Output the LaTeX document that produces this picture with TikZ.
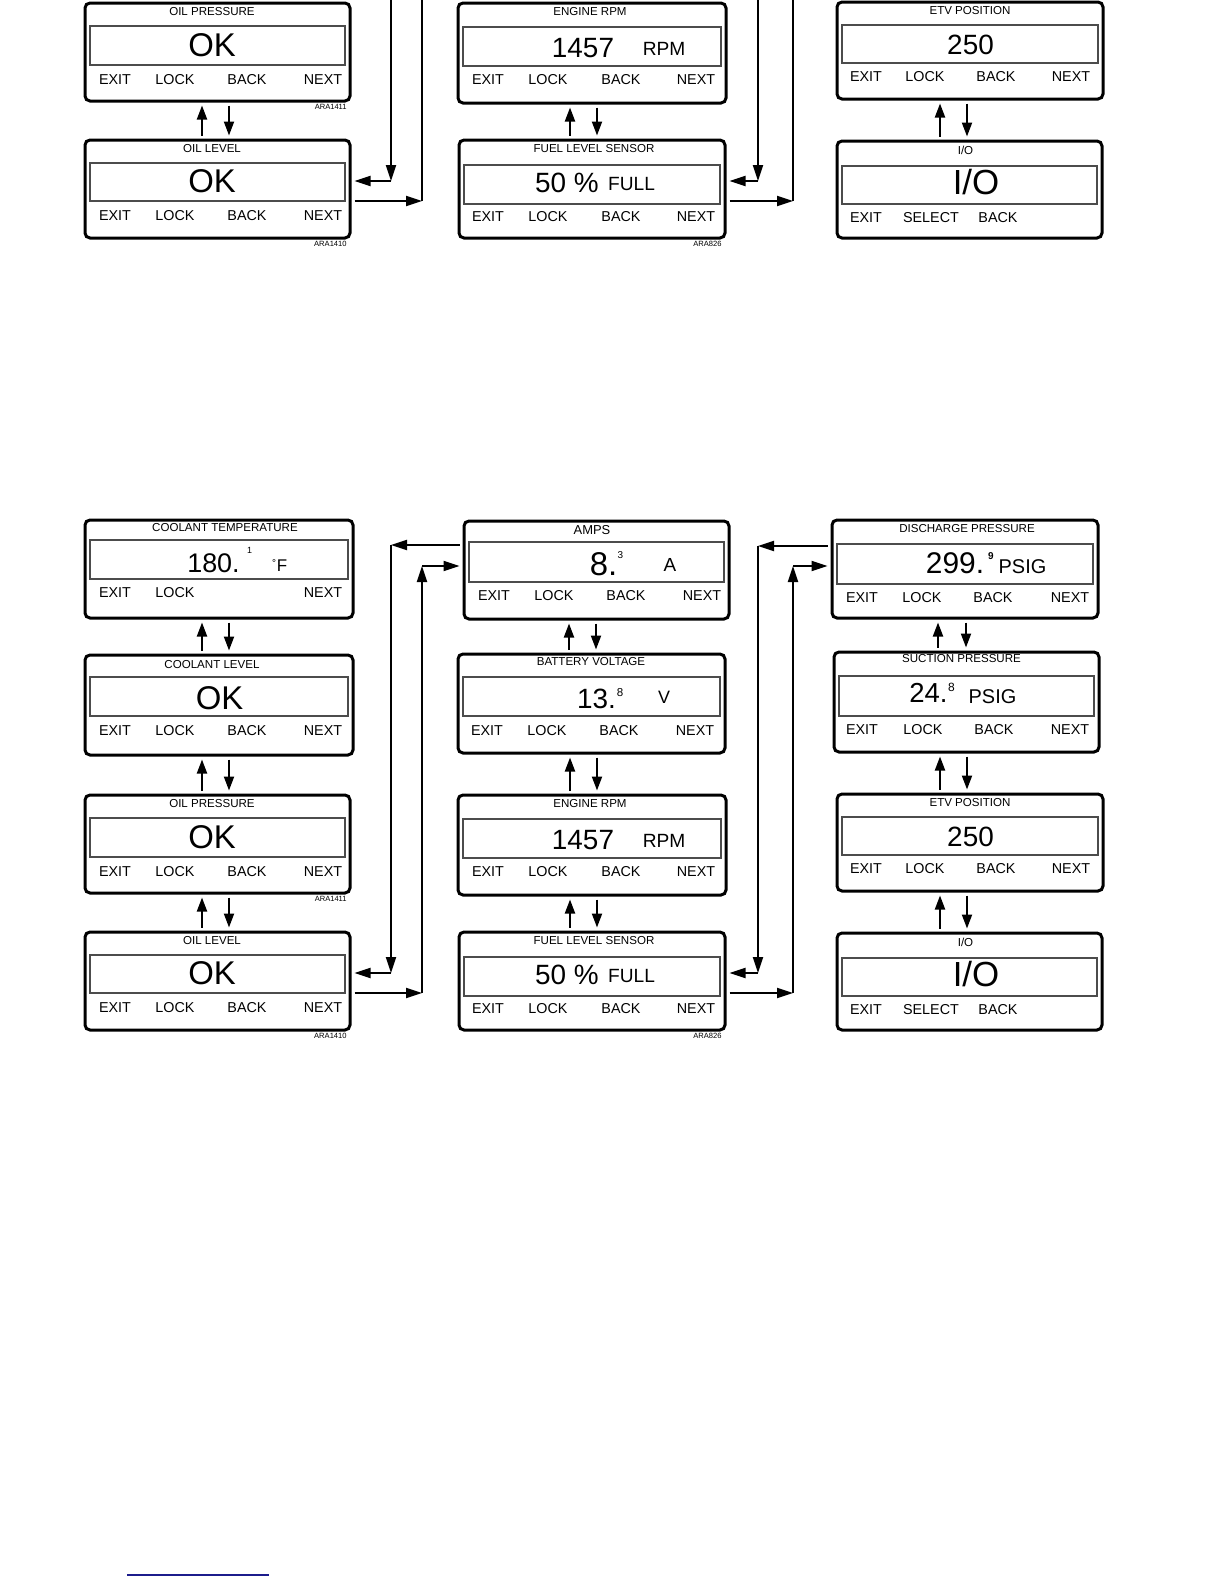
\documentclass[tikz,border=0pt]{standalone}
\usepackage{fontspec}
\setmainfont{Liberation Sans}
\usetikzlibrary{arrows.meta}
\definecolor{linkblue}{RGB}{28,28,140}
\newcommand\fsz[1]{\fontsize{#1}{#1}\selectfont}
\tikzset{
  outerbox/.style={draw=black, line width=1.5bp, rounded corners=2.5bp, inner sep=0pt, outer sep=0.75bp},
  display/.style={draw=black!70, line width=0.55bp, inner sep=0pt},
  ttl/.style={inner sep=0pt, font=\fsz{5.8}},
  btn/.style={inner sep=0pt, font=\fsz{7.2}},
  txt/.style={inner sep=0pt},
  code/.style={inner sep=0pt, anchor=east, font=\fsz{3.8}},
  navarr/.style={line width=1bp, -{Triangle[length=7bp,width=5bp]}, shorten <=1.5bp, shorten >=1.5bp},
  conn/.style={line width=1bp, -{Triangle[length=8bp,width=5bp]}},
}
% #1 name, #2 x1, #3 y1, #4 x2, #5 y2, #6 display top, #7 display bottom, #8 title pos, #9 title
\newcommand\panel[9]{%
  \node[outerbox, minimum width={(#4-#2)*0.5bp}, minimum height={(#5-#3)*0.5bp}] (#1) at ({(#2+#4)/2},{(#3+#5)/2}) {};
  \node[display, minimum width={(#4-#2-10)*0.5bp}, minimum height={(#7-#6)*0.5bp}] (#1-d) at ({(#2+#4)/2},{(#6+#7)/2}) {};
  \node[ttl] (#1-t) at (#8) {#9};
}
\newcommand\fourbtn[6]{%
  \node[btn] (#1-exit) at (#3,#2) {EXIT};
  \node[btn] (#1-lock) at (#4,#2) {LOCK};
  \node[btn] (#1-back) at (#5,#2) {BACK};
  \node[btn] (#1-next) at (#6,#2) {NEXT};
}
\newcommand\updown[4]{%
  \coordinate (#2-ux) at (#3,0);
  \coordinate (#2-dx) at (#4,0);
  \draw[navarr] (#2.north -| #2-ux) -- (#1.south -| #2-ux);
  \draw[navarr] (#1.south -| #2-dx) -- (#2.north -| #2-dx);
}
% lower half: the six bottom panels and the lower part of the column links
\newcommand\lowerhalf[1]{%
  \panel{#1op}{85}{795}{350}{893}{818}{857}{212,804}{OIL PRESSURE}
  \node[txt,font=\fsz{16.5}] (#1op-v) at (212,837) {OK};
  \fourbtn{#1op}{872}{115}{175}{247}{323}
  \node[code] (#1op-c) at (347,899) {ARA1411};
  \panel{#1ol}{85}{932}{350}{1030}{955}{993}{212,941}{OIL LEVEL}
  \node[txt,font=\fsz{16.5}] (#1ol-v) at (212,973) {OK};
  \fourbtn{#1ol}{1008}{115}{175}{247}{323}
  \node[code] (#1ol-c) at (347,1036) {ARA1410};
  \panel{#1rpm}{458}{795}{726}{895}{819}{858}{590,804}{ENGINE RPM}
  \node[txt,font=\fsz{14}] (#1rpm-v) at (583,840) {1457};
  \node[txt,font=\fsz{9.6}] (#1rpm-u) at (664,840.5) {RPM};
  \fourbtn{#1rpm}{872}{488}{548}{621}{696}
  \panel{#1fuel}{459}{932}{725}{1030}{957}{996}{594,941}{FUEL LEVEL SENSOR}
  \node[txt,font=\fsz{14}] (#1fuel-v) at (567,975) {50 \%};
  \node[txt,font=\fsz{9.6}] (#1fuel-u) at (631.5,976) {FULL};
  \fourbtn{#1fuel}{1009}{488}{548}{621}{696}
  \node[code] (#1fuel-c) at (722,1036) {ARA826};
  \panel{#1etv}{837}{794}{1103}{891}{817}{855}{970,803}{ETV POSITION}
  \node[txt,font=\fsz{14}] (#1etv-v) at (970.5,837) {250};
  \fourbtn{#1etv}{869}{866}{925}{996}{1071}
  \panel{#1io}{837}{933}{1102}{1030}{958}{996}{965.5,942}{I/O}
  \node[txt,font=\fsz{17.5}] (#1io-v) at (976,974) {I/O};
  \node[btn] (#1io-exit) at (866,1010) {EXIT};
  \node[btn] (#1io-sel) at (931,1010) {SELECT};
  \node[btn] (#1io-back) at (998,1010) {BACK};
  \updown{#1op}{#1ol}{202}{229}
  \updown{#1rpm}{#1fuel}{570}{597}
  \updown{#1etv}{#1io}{940}{967}
  \coordinate (#1a1) at (391,545);
  \coordinate (#1a2) at (391,973);
  \draw[conn] (#1a1) -- (#1a2);
  \draw[conn, shorten >=1.5bp] (#1a2) -- (#1ol.east |- #1a2);
  \coordinate (#1b1) at (422,993);
  \coordinate (#1b2) at (422,566);
  \draw[conn, shorten <=1.5bp] (#1ol.east |- #1b1) -- (#1b1);
  \draw[conn] (#1b1) -- (#1b2);
  \coordinate (#1c1) at (758,546);
  \coordinate (#1c2) at (758,973);
  \draw[conn] (#1c1) -- (#1c2);
  \draw[conn, shorten >=1.5bp] (#1c2) -- (#1fuel.east |- #1c2);
  \coordinate (#1d1) at (793,993);
  \coordinate (#1d2) at (793,566);
  \draw[conn, shorten <=1.5bp] (#1fuel.east |- #1d1) -- (#1d1);
  \draw[conn] (#1d1) -- (#1d2);
}
% upper half: the six top panels and the upper part of the column links
\newcommand\upperhalf[1]{%
  \panel{#1ct}{85}{520}{353}{618}{540}{579}{225,528}{COOLANT TEMPERATURE}
  \node[txt,font=\fsz{13.5}] (#1ct-v) at (213.5,563) {180.};
  \node[txt,font=\fsz{4.5}] (#1ct-s) at (249.5,550) {1};
  \node[txt,font=\fsz{5},anchor=north] (#1ct-deg) at (274,559) {°};
  \node[txt,font=\fsz{8.5}] (#1ct-u) at (282,566) {F};
  \node[btn] (#1ct-exit) at (115,593) {EXIT};
  \node[btn] (#1ct-lock) at (175,593) {LOCK};
  \node[btn] (#1ct-next) at (323,593) {NEXT};
  \panel{#1cl}{85}{655}{353}{755}{677}{716}{212,665}{COOLANT LEVEL}
  \node[txt,font=\fsz{16.5}] (#1cl-v) at (219.5,698) {OK};
  \fourbtn{#1cl}{731}{115}{175}{247}{323}
  \panel{#1amps}{464}{521}{729}{619}{542}{582}{592,530}{\fsz{6.5}AMPS}
  \node[txt,font=\fsz{16.5}] (#1amps-v) at (603.5,564) {8.};
  \node[txt,font=\fsz{5}] (#1amps-s) at (620.5,555.5) {3};
  \node[txt,font=\fsz{9.5}] (#1amps-u) at (670,565) {A};
  \fourbtn{#1amps}{596}{494}{554}{626}{702}
  \panel{#1bv}{458}{654}{725}{753}{677}{716}{591,662}{BATTERY VOLTAGE}
  \node[txt,font=\fsz{14}] (#1bv-v) at (596.5,698.5) {13.};
  \node[txt,font=\fsz{5.8}] (#1bv-s) at (620,692.5) {8};
  \node[txt,font=\fsz{9}] (#1bv-u) at (664,697.5) {V};
  \fourbtn{#1bv}{731}{487}{547}{619}{695}
  \panel{#1dp}{832}{520}{1098}{618}{544}{584}{967,529}{DISCHARGE PRESSURE}
  \node[txt,font=\fsz{15}] (#1dp-v) at (955,563) {299.};
  \node[txt,font=\bfseries\fsz{5}] (#1dp-s) at (991,556.5) {9};
  \node[txt,font=\fsz{10}] (#1dp-u) at (1022.5,566.5) {PSIG};
  \fourbtn{#1dp}{598}{862}{922}{993}{1070}
  \panel{#1sp}{834}{652}{1099}{752}{676}{716}{961.5,659}{SUCTION PRESSURE}
  \node[txt,font=\fsz{13.8}] (#1sp-v) at (928.5,693) {24.};
  \node[txt,font=\fsz{6}] (#1sp-s) at (951.5,687.5) {8};
  \node[txt,font=\fsz{10}] (#1sp-u) at (992.5,696.5) {PSIG};
  \fourbtn{#1sp}{730}{862}{923}{994}{1070}
  \updown{#1ct}{#1cl}{202}{229}
  \updown{#1cl}{#1op}{202}{229}
  \updown{#1amps}{#1bv}{569}{596}
  \updown{#1bv}{#1rpm}{570}{597}
  \updown{#1dp}{#1sp}{938}{966}
  \updown{#1sp}{#1etv}{940}{967}
  \draw[conn, shorten <=1.5bp] (#1amps.west |- #1a1) -- (#1a1);
  \draw[conn, shorten >=1.5bp] (#1b2) -- (#1amps.west |- #1b2);
  \draw[conn, shorten <=1.5bp] (#1dp.west |- #1c1) -- (#1c1);
  \draw[conn, shorten >=1.5bp] (#1d2) -- (#1dp.west |- #1d2);
}
\begin{document}
\begin{tikzpicture}[x=0.5bp,y=-0.5bp]
\useasboundingbox (0,0) rectangle (1224,1584);
\clip (0,0) rectangle (1224,1584);
\fill[white] (0,0) rectangle (1224,1584);
\lowerhalf{m}
\upperhalf{m}
\begin{scope}[shift={(0,-792)}]
\lowerhalf{t}
\end{scope}
\coordinate (bl1) at (127,1575);
\coordinate (bl2) at (269,1575);
\draw[linkblue, line width=0.7bp] (bl1) -- (bl2);
\end{tikzpicture}
\end{document}
